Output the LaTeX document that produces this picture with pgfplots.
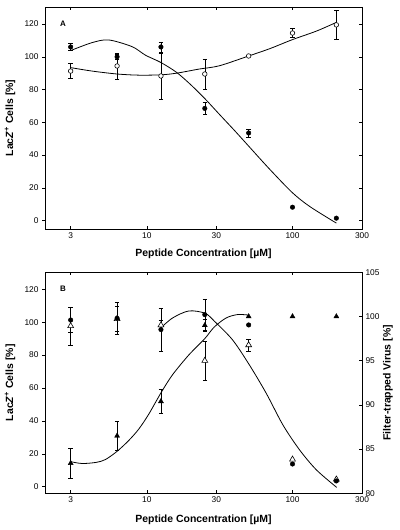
\documentclass[border=0pt]{standalone}
\usepackage{fontspec}
\setmainfont{Liberation Sans}
\usepackage{pgfplots}
\pgfplotsset{compat=1.18}
\usepackage{pgfplotstable}

% Panel A data
\pgfplotstableread{
x y e
3 106 2
6.25 100 1.5
12.5 106 3
25 68.5 3.5
50 53.5 2.5
100 8.2 0
200 1.5 0
}\Afilled
\pgfplotstableread{
x y e
3 91.3 4.5
6.25 94.4 8
12.5 88.3 14
25 89.5 9
50 100.5 0
100 114.5 2.8
200 119.5 8.7
}\Aopen
\pgfplotstableread{
x y
3 103.8
4.19 108.6
5.46 110.3
7.92 106.2
9.78 101
12.5 96.5
16 90.5
20 83
25 74.5
31.4 65
40 55
50 45.5
69.5 31.5
100 17
132 8.5
200 -1.5
}\Afitfilled
\pgfplotstableread{
x y
3 93.4
4.2 91.3
6.25 89.5
8.8 88.8
12.5 89
16 90
22.8 92.5
31.4 94.5
50 100.5
70 105
100 110.5
146 115.7
200 121
}\Afitopen
% Panel B data
\pgfplotstableread{
x y e
3 101.3 7.5
6.25 102.4 9.6
12.5 95.5 13
25 104.6 9.3
50 98.3 0
100 13.8 0
200 3.5 0
}\Bcirc
\pgfplotstableread{
x y e
3 97.7 11.5
6.25 102 7.5
12.5 98.2 3
25 76.6 12
50 86.1 3.5
100 16.6 0
200 4.5 0
}\Bopentri
\pgfplotstableread{
x y e
3 83.4 1.7
6.25 86.5 1.6
12.5 90.4 1.35
25 99.0 0.7
50 100 0
100 100 0
200 100 0
}\Bfilltri
\pgfplotstableread{
x y
12.4 96.3
15 102.5
19.4 106.8
25.1 105.4
29.3 100.3
38.8 89.2
50.6 74
66 56.8
86 37.5
112 22.3
146 10.2
201 -0.4
}\Bfitdown
\pgfplotstableread{
x y
3 83.58
3.6 83.37
4.5 83.50
5.2 83.82
6.25 84.75
7.5 85.96
8.8 87.26
10.3 88.94
12.5 91.36
15 93.40
19.4 95.64
25 97.50
29 98.80
35 99.83
42 100.22
50 100.16
}\Bfitup

\pgfplotsset{every axis/.append style={
    scale only axis, width=317bp,
    tick label style={font=\fontsize{8.4}{10}\selectfont},
    axis line style={line width=0.6pt},
    major tick length=3bp,
    every tick/.append style={black, line width=0.5pt},
    clip=false}}
\tikzset{
  fitline/.style={black, line width=0.8pt},
}

\begin{document}
\begin{tikzpicture}
\path[use as bounding box] (0,0) rectangle (400bp,530bp);

% ---------- Panel A ----------
\begin{axis}[at={(45bp,301bp)}, anchor=south west, height=222bp,
  xmode=log, xmin=2, xmax=300, xtick={3,10,30,100,300}, xticklabels={3,10,30,100,300},
  /pgf/number format/assume math mode=true,
  ymin=-5.1, ymax=130.4, axis x line=none, axis y line*=left,
  tick align=outside, ytick={0,20,40,60,80,100,120},
  ylabel={Lac\textit{Z}\textsuperscript{+} Cells [\%]},
  every axis y label/.style={at={(axis description cs:-0.11,0.5)}, rotate=90, anchor=center,
    font=\bfseries\fontsize{10.5}{12}\selectfont}]
\addplot[draw=none, forget plot] coordinates {(3,50)};
\end{axis}
\begin{axis}[at={(45bp,301bp)}, anchor=south west, height=222bp,
  xmode=log, xmin=2, xmax=300, xtick={3,10,30,100,300}, xticklabels={3,10,30,100,300},
  /pgf/number format/assume math mode=true,
  ymin=-5.1, ymax=130.4, tick align=inside, xtick pos=both, ytick pos=right,
  ytick={0,20,40,60,80,100,120}, yticklabels={},
  xlabel={Peptide Concentration [µM]},
  every axis x label/.style={at={(axis description cs:0.5,-0.111)}, anchor=center,
    font=\bfseries\fontsize{10.5}{12}\selectfont}]
\addplot[fitline, smooth, tension=0.5, mark=none] table[x=x,y=y] {\Afitfilled};
\addplot[fitline, smooth, tension=0.5, mark=none] table[x=x,y=y] {\Afitopen};
% error bars
\addplot[draw=none, mark=none, forget plot, skip coords between index={5}{7},
  error bars/y dir=both, error bars/y explicit,
  error bars/error bar style={line width=0.5pt, black},
  error bars/error mark options={rotate=90, mark size=2.3pt, line width=0.5pt, black}]
  table[x=x,y=y,y error=e] {\Afilled};
\addplot[draw=none, mark=none, forget plot, skip coords between index={4}{5},
  error bars/y dir=both, error bars/y explicit,
  error bars/error bar style={line width=0.5pt, black},
  error bars/error mark options={rotate=90, mark size=2.3pt, line width=0.5pt, black}]
  table[x=x,y=y,y error=e] {\Aopen};
% marks
\addplot[only marks, mark=*, mark size=2.3pt, mark options={fill=black, draw=black}]
  table[x=x,y=y] {\Afilled};
\addplot[only marks, mark=*, mark size=2.3pt, mark options={fill=white, draw=black, line width=0.6pt}]
  table[x=x,y=y] {\Aopen};
\node[font=\bfseries\fontsize{8}{10}\selectfont] at (rel axis cs:0.057,0.923) {A};
\end{axis}

% ---------- Panel B ----------
\begin{axis}[at={(45bp,36.7bp)}, anchor=south west, height=221bp,
  xmode=log, xmin=2, xmax=300, xtick={3,10,30,100,300}, xticklabels={3,10,30,100,300},
  /pgf/number format/assume math mode=true,
  ymin=-4, ymax=130.3, axis x line=none, axis y line*=left,
  tick align=outside, ytick={0,20,40,60,80,100,120},
  ylabel={Lac\textit{Z}\textsuperscript{+} Cells [\%]},
  every axis y label/.style={at={(axis description cs:-0.11,0.5)}, rotate=90, anchor=center,
    font=\bfseries\fontsize{10.5}{12}\selectfont}]
\addplot[fitline, smooth, tension=0.5, mark=none] table[x=x,y=y] {\Bfitdown};
\addplot[draw=none, mark=none, forget plot, skip coords between index={5}{7},
  error bars/y dir=both, error bars/y explicit,
  error bars/error bar style={line width=0.5pt, black},
  error bars/error mark options={rotate=90, mark size=2.3pt, line width=0.5pt, black}]
  table[x=x,y=y,y error=e] {\Bopentri};
\addplot[draw=none, mark=none, forget plot, skip coords between index={4}{7},
  error bars/y dir=both, error bars/y explicit,
  error bars/error bar style={line width=0.5pt, black},
  error bars/error mark options={rotate=90, mark size=2.3pt, line width=0.5pt, black}]
  table[x=x,y=y,y error=e] {\Bcirc};
\addplot[only marks, mark=triangle*, mark size=3.4pt, mark options={fill=white, draw=black, line width=0.6pt}]
  table[x=x,y=y] {\Bopentri};
\addplot[only marks, mark=*, mark size=2.3pt, mark options={fill=black, draw=black}]
  table[x=x,y=y] {\Bcirc};
\end{axis}
\begin{axis}[at={(45bp,36.7bp)}, anchor=south west, height=221bp,
  xmode=log, xmin=2, xmax=300, xtick={3,10,30,100,300}, xticklabels={3,10,30,100,300},
  /pgf/number format/assume math mode=true,
  ymin=80, ymax=105, tick align=inside, xtick pos=both, ytick pos=right,
  yticklabel pos=right,
  ytick={80,85,90,95,100,105},
  xlabel={Peptide Concentration [µM]},
  ylabel={Filter-trapped Virus [\%]},
  every axis x label/.style={at={(axis description cs:0.5,-0.121)}, anchor=center,
    font=\bfseries\fontsize{10.5}{12}\selectfont},
  every axis y label/.style={at={(axis description cs:1.082,0.5)}, rotate=90, anchor=center,
    font=\bfseries\fontsize{10.5}{12}\selectfont}]
\addplot[fitline, smooth, tension=0.5, mark=none] table[x=x,y=y] {\Bfitup};
\addplot[draw=none, mark=none, forget plot, skip coords between index={4}{7},
  error bars/y dir=both, error bars/y explicit,
  error bars/error bar style={line width=0.5pt, black},
  error bars/error mark options={rotate=90, mark size=2.3pt, line width=0.5pt, black}]
  table[x=x,y=y,y error=e] {\Bfilltri};
\addplot[only marks, mark=triangle*, mark size=2.9pt, mark options={fill=black, draw=black}]
  table[x=x,y=y] {\Bfilltri};
\node[font=\bfseries\fontsize{8}{10}\selectfont] at (rel axis cs:0.057,0.924) {B};
\end{axis}
\end{tikzpicture}
\end{document}
